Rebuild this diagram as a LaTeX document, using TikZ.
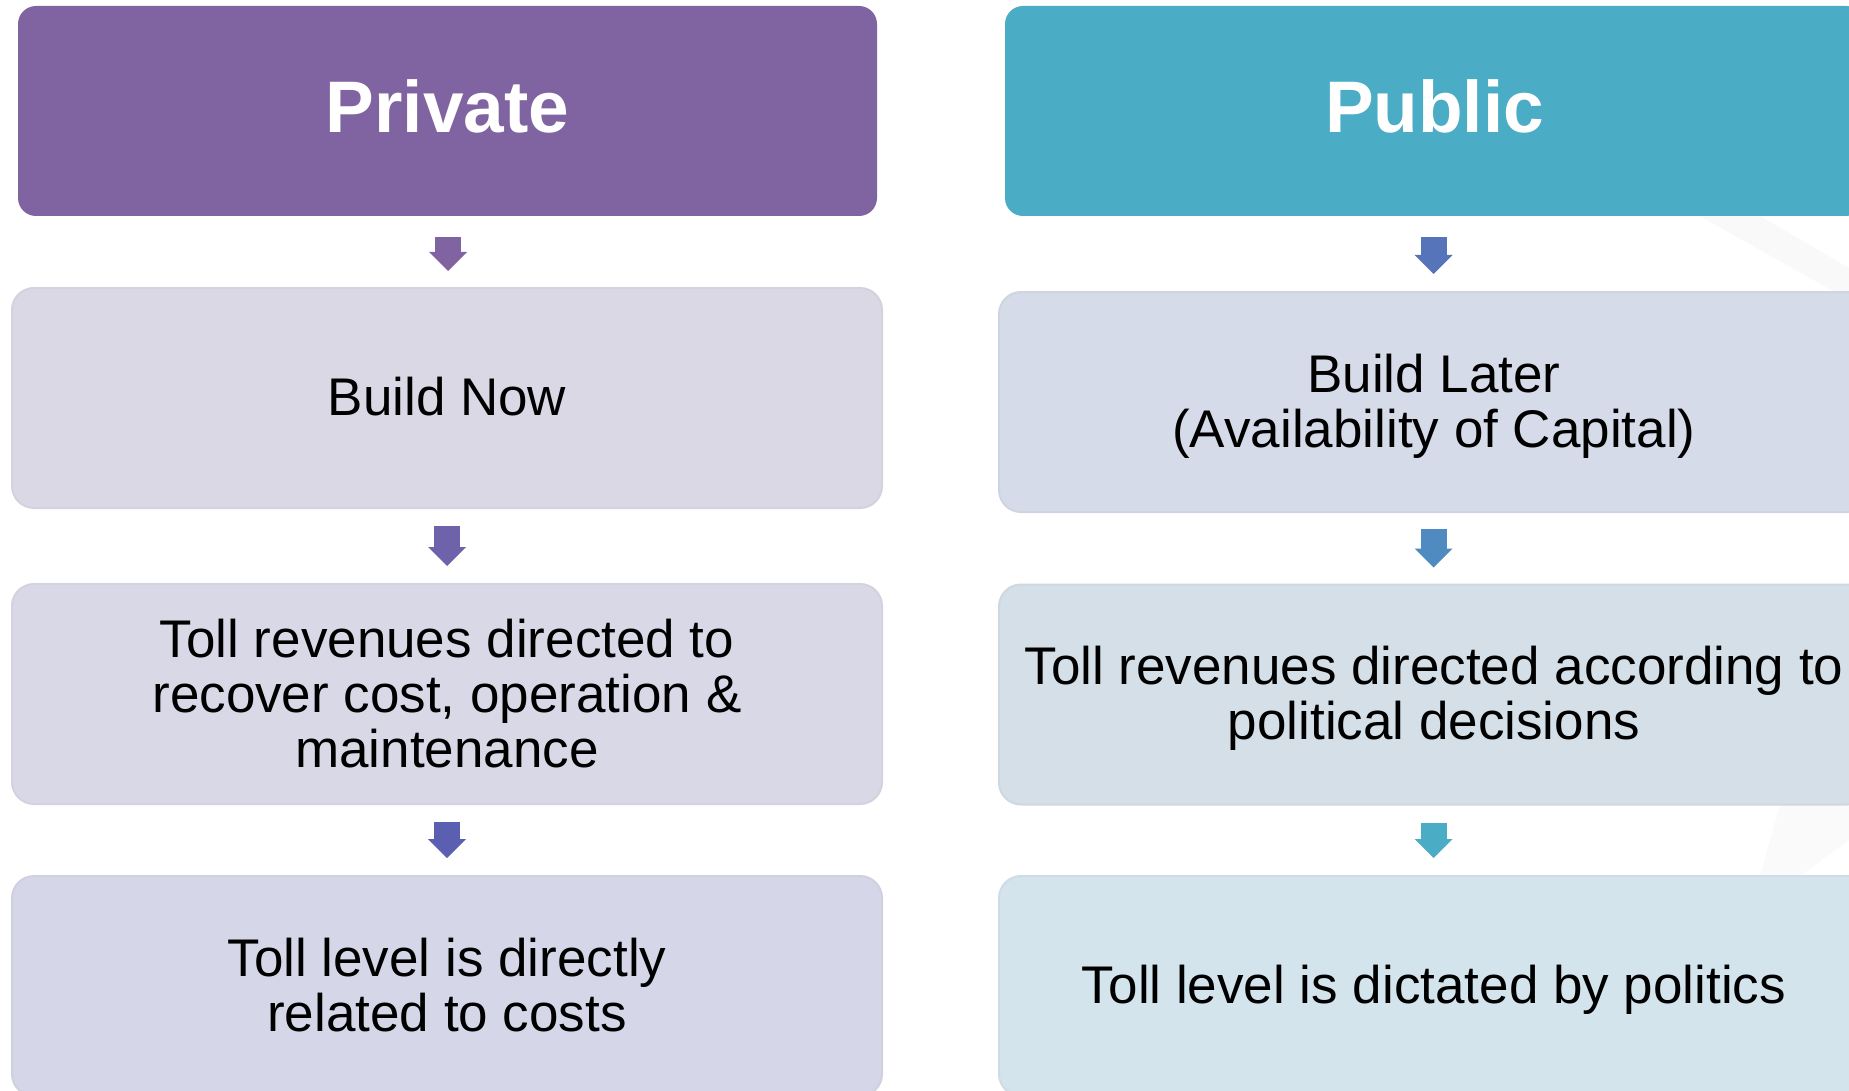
\documentclass[tikz,border=0pt]{standalone}
\usepackage{fontspec}
\setmainfont{Liberation Sans}
\usetikzlibrary{arrows.meta,calc}
\definecolor{hdrP}{HTML}{8064A2}
\definecolor{hdrQ}{HTML}{4BACC6}
\definecolor{arP1}{HTML}{8064A2}
\definecolor{arP2}{HTML}{6E63AA}
\definecolor{arP3}{HTML}{5A5FB1}
\definecolor{arQ1}{HTML}{5574BA}
\definecolor{arQ2}{HTML}{4F8AC1}
\definecolor{arQ3}{HTML}{4BACC6}
\definecolor{bxP2}{HTML}{DBD8E6}
\definecolor{bxP3}{HTML}{D9D8E7}
\definecolor{bxP4}{HTML}{D5D7E8}
\definecolor{bxQ2}{HTML}{D5DBE8}
\definecolor{bxQ3}{HTML}{D4DFE8}
\definecolor{bxQ4}{HTML}{D4E4EC}
\tikzset{
  hdrbox/.style={rectangle, rounded corners=18pt, inner sep=0pt, minimum width=859pt, minimum height=210pt, draw=none},
  bodybox/.style={rectangle, rounded corners=22pt, inner sep=0pt, minimum width=870pt, minimum height=220pt, line width=2pt},
  hdrtext/.style={font=\fontsize{73}{80}\selectfont\bfseries, text=white, inner sep=0pt},
  bodytext/.style={font=\fontsize{53}{55}\selectfont, text=black, inner sep=0pt, align=center},
  flow/.style={line width=26pt, -{Triangle[width=38pt,length=19pt,line width=0pt]}},
}
\begin{document}
\begin{tikzpicture}[x=1pt,y=-1pt]
\useasboundingbox (0,0) rectangle (1849,1091);
\fill[white] (0,0) rectangle (1849,1091);
% faint background streaks
\fill[black!2.5] (1700,216) -- (1760,216) -- (1849,268) -- (1849,300) -- cycle;
\fill[black!2] (1780,805) -- (1849,805) -- (1849,840) -- (1800,876) -- (1760,876) -- cycle;
% private column
\node[hdrbox, fill=hdrP] (ph) at (447.5,111) {};
\node[hdrtext, anchor=base] (pht) at (447.5,133) {Private};
\node[bodybox, fill=bxP2, draw=bxP2!97!black] (p2) at (447,398) {};
\node[bodytext, anchor=base] (p2t) at (447,415) {Build Now};
\node[bodybox, fill=bxP3, draw=bxP3!97!black] (p3) at (447,694) {};
\node[bodytext] (p3t) at (447,693.7) {Toll revenues directed to\\recover cost, operation \&\\maintenance};
\node[bodybox, fill=bxP4, draw=bxP4!97!black] (p4) at (447,986) {};
\node[bodytext] (p4t) at (447,985.5) {Toll level is directly\\related to costs};
% public column
\node[hdrbox, fill=hdrQ] (qh) at (1434.5,111) {};
\node[hdrtext, anchor=base] (qht) at (1434.5,133) {Public};
\node[bodybox, fill=bxQ2, draw=bxQ2!97!black] (q2) at (1434,402) {};
\node[bodytext] (q2t) at (1434,406.3) {Build Later\\(Availability of Capital)};
\node[bodybox, fill=bxQ3, draw=bxQ3!97!black] (q3) at (1434,694.5) {};
\node[bodytext] (q3t) at (1434,698.2) {Toll revenues directed according to\\political decisions};
\node[bodybox, fill=bxQ4, draw=bxQ4!97!black] (q4) at (1434,986) {};
\node[bodytext, anchor=base] (q4t) at (1434,1003) {Toll level is dictated by politics};
% connectors
\draw[flow, arP1, shorten <=21pt, shorten >=16pt] ([xshift=0.5pt]ph.south) -- ([xshift=1pt]p2.north);
\draw[flow, arP2, shorten <=17pt, shorten >=17pt] (p2.south) -- (p3.north);
\draw[flow, arP3, shorten <=17pt, shorten >=17pt] (p3.south) -- (p4.north);
\draw[flow, arQ1, shorten <=21pt, shorten >=17pt] ([xshift=-1pt]qh.south) -- ([xshift=-0.5pt]q2.north);
\draw[flow, arQ2, shorten <=16pt, shorten >=16pt] ([xshift=-0.5pt]q2.south) -- ([xshift=-0.5pt]q3.north);
\draw[flow, arQ3, shorten <=17pt, shorten >=17pt] ([xshift=-0.5pt]q3.south) -- ([xshift=-0.5pt]q4.north);
\end{tikzpicture}
\end{document}
